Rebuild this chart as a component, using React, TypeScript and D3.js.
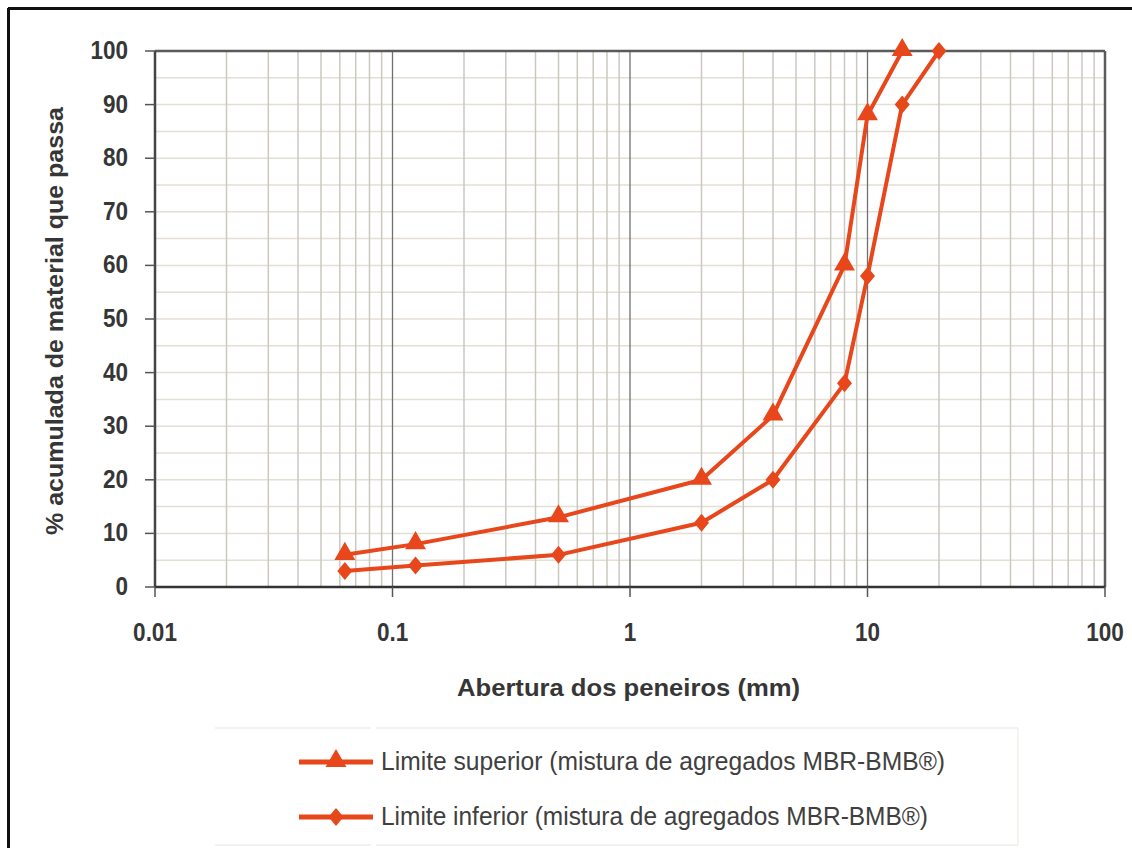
import React from 'react';
import * as d3 from 'd3';

// sieve openings (mm)
const upperSieves = [0.063, 0.125, 0.5, 2, 4, 8, 10, 14];
const upperValues = [6, 8, 13, 20, 32, 60, 88, 100];
const lowerSieves = [0.063, 0.125, 0.5, 2, 4, 8, 10, 14, 20];
const lowerValues = [3, 4, 6, 12, 20, 38, 58, 90, 100];

const xTickLabels = ['0.01', '0.1', '1', '10', '100'];
const yTicks = [0, 10, 20, 30, 40, 50, 60, 70, 80, 90, 100];

const upperLabel = 'Limite superior (mistura de agregados MBR-BMB®)';
const lowerLabel = 'Limite inferior (mistura de agregados MBR-BMB®)';
const xTitle = 'Abertura dos peneiros (mm)';
const yTitle = '% acumulada de material que passa';

const W = 1132;
const H = 848;
const plot = { left: 155, right: 1105, top: 51, bottom: 587 };
const orange = '#e8461b';
const textColor = '#363636';
const font = '"Liberation Sans", Arial, sans-serif';

const App: React.FC = () => {
  const x = d3.scaleLog().domain([0.01, 100]).range([plot.left, plot.right]);
  const y = d3.scaleLinear().domain([0, 100]).range([plot.bottom, plot.top]);

  const majors = xTickLabels.map(Number);
  const minors: number[] = [];
  majors.slice(0, -1).forEach(m => {
    for (let k = 2; k <= 9; k++) minors.push(m * k);
  });
  const hLines = d3.range(5, 100, 5);

  const line = d3
    .line<[number, number]>()
    .x(d => x(d[0]))
    .y(d => y(d[1]));

  const upper = upperSieves.map((s, i) => [s, upperValues[i]] as [number, number]);
  const lower = lowerSieves.map((s, i) => [s, lowerValues[i]] as [number, number]);

  const tri = d3.symbol().type(d3.symbolTriangle).size(190)() || '';
  const dia = 'M0,-9L7.5,0L0,9L-7.5,0Z';

  // condensed-looking tick text
  const tickText = (tx: number, ty: number, anchor: string, label: string, key: string) => (
    <text
      key={key}
      transform={`translate(${tx},${ty}) scale(0.9,1)`}
      textAnchor={anchor}
      fontFamily={font}
      fontWeight="bold"
      fontSize={25}
      fill={textColor}
    >
      {label}
    </text>
  );

  return (
    <svg width={W} height={H} style={{ position: 'absolute', left: 0, top: 0, display: 'block' }}>
      <rect x={0} y={0} width={W} height={H} fill="#fff" />
      {/* outer frame */}
      <line x1={8} x2={W} y1={8.5} y2={8.5} stroke="#111" strokeWidth={3} />
      <line x1={8.5} x2={8.5} y1={8} y2={H} stroke="#111" strokeWidth={3} />

      {/* horizontal grid */}
      {hLines.map(v => (
        <line key={'h' + v} x1={plot.left} x2={plot.right} y1={y(v)} y2={y(v)} stroke="#e4dfd3" strokeWidth={1.5} />
      ))}
      {/* minor vertical grid */}
      {minors.map(v => (
        <line key={'m' + v} x1={x(v)} x2={x(v)} y1={plot.top} y2={plot.bottom} stroke="#cbc8c0" strokeWidth={1.5} />
      ))}
      {/* major vertical grid */}
      {majors.slice(1, -1).map(v => (
        <line key={'M' + v} x1={x(v)} x2={x(v)} y1={plot.top} y2={plot.bottom} stroke="#707070" strokeWidth={1.3} />
      ))}

      {/* frame */}
      <line x1={plot.left} x2={plot.right} y1={plot.top} y2={plot.top} stroke="#5a5a5a" strokeWidth={2.5} />
      <line x1={plot.right} x2={plot.right} y1={plot.top} y2={plot.bottom} stroke="#5a5a5a" strokeWidth={2.5} />
      <line x1={plot.left} x2={plot.left} y1={plot.top} y2={plot.bottom} stroke="#444" strokeWidth={2.5} />
      <line x1={plot.left} x2={plot.right} y1={plot.bottom} y2={plot.bottom} stroke="#333" strokeWidth={2.5} />

      {/* y ticks */}
      {yTicks.map(v => (
        <g key={'yt' + v}>
          <line x1={plot.left - 10} x2={plot.left} y1={y(v)} y2={y(v)} stroke="#555" strokeWidth={1.5} />
          {tickText(128, y(v) + 8, 'end', String(v), 'ytl' + v)}
        </g>
      ))}
      {/* x ticks */}
      {majors.map((v, i) => (
        <g key={'xt' + v}>
          <line x1={x(v)} x2={x(v)} y1={plot.bottom} y2={plot.bottom + 10} stroke="#555" strokeWidth={1.5} />
          {tickText(x(v), 641, 'middle', xTickLabels[i], 'xtl' + v)}
        </g>
      ))}

      {/* axis titles */}
      <text
        x={457}
        y={696}
        fontFamily={font}
        fontWeight="bold"
        fontSize={24}
        fill={textColor}
        textLength={343}
        lengthAdjust="spacingAndGlyphs"
      >
        {xTitle}
      </text>
      <text
        transform="translate(63,535) rotate(-90)"
        x={0}
        y={0}
        fontFamily={font}
        fontWeight="bold"
        fontSize={24}
        fill={textColor}
        textLength={428}
        lengthAdjust="spacingAndGlyphs"
      >
        {yTitle}
      </text>

      {/* series */}
      <path d={line(lower) || ''} fill="none" stroke={orange} strokeWidth={4} strokeLinejoin="round" />
      <path d={line(upper) || ''} fill="none" stroke={orange} strokeWidth={4} strokeLinejoin="round" />
      {lower.map(d => (
        <path key={'ld' + d[0]} d={dia} transform={`translate(${x(d[0])},${y(d[1])})`} fill={orange} />
      ))}
      {upper.map(d => (
        <path key={'ud' + d[0]} d={tri} transform={`translate(${x(d[0])},${y(d[1]) - 1})`} fill={orange} />
      ))}

      {/* legend */}
      <g>
        <line x1={215} x2={371} y1={728} y2={728} stroke="#f1eee8" strokeWidth={1.5} />
        <line x1={376} x2={1018} y1={728} y2={728} stroke="#f1eee8" strokeWidth={1.5} />
        <line x1={215} x2={371} y1={845} y2={845} stroke="#f1eee8" strokeWidth={1.5} />
        <line x1={376} x2={1018} y1={845} y2={845} stroke="#f1eee8" strokeWidth={1.5} />
        <line x1={1018} x2={1018} y1={728} y2={845} stroke="#f3f0ea" strokeWidth={1.5} />

        <line x1={299} x2={373} y1={762} y2={762} stroke={orange} strokeWidth={5} />
        <path d={tri} transform="translate(336,761)" fill={orange} />
        <text x={381} y={770} fontFamily={font} fontSize={25} fill="#404040" textLength={564} lengthAdjust="spacingAndGlyphs">
          {upperLabel}
        </text>

        <line x1={299} x2={373} y1={817} y2={817} stroke={orange} strokeWidth={5} />
        <path d={dia} transform="translate(336,817)" fill={orange} />
        <text x={381} y={825} fontFamily={font} fontSize={25} fill="#404040" textLength={547} lengthAdjust="spacingAndGlyphs">
          {lowerLabel}
        </text>
      </g>
    </svg>
  );
};

export default App;
